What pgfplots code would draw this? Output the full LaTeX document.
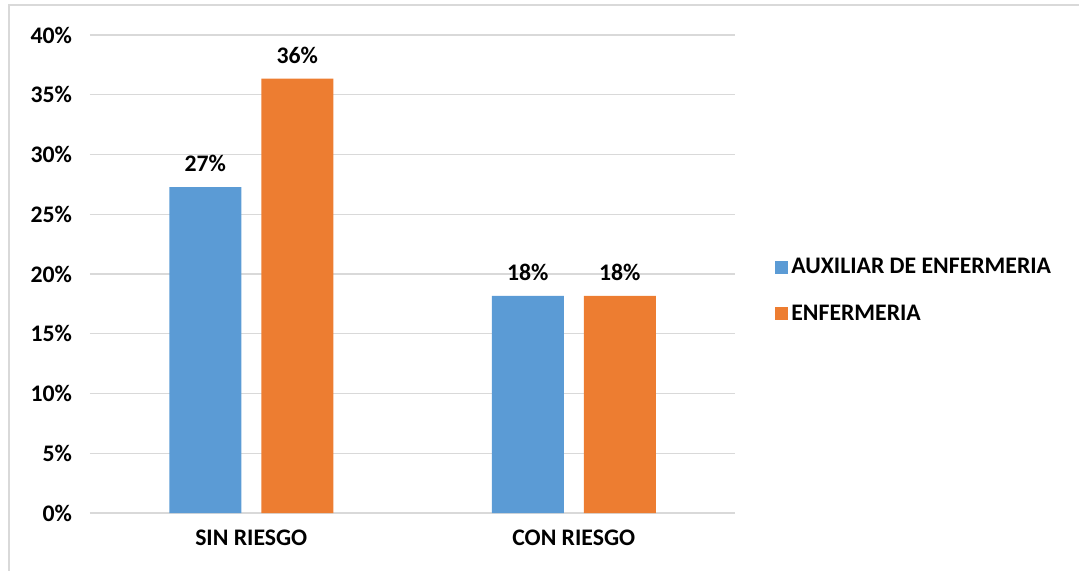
\documentclass[border=0pt]{standalone}
\usepackage{fontspec}
\setmainfont{Carlito}
\usepackage{pgfplots}
\pgfplotsset{compat=1.18}

\definecolor{aux}{HTML}{5B9BD5}
\definecolor{enf}{HTML}{ED7D31}
\definecolor{gridc}{HTML}{D9D9D9}

\begin{document}
\begin{tikzpicture}[x=0.75pt,y=-0.75pt,font=\bfseries\fontsize{17.8}{21}\selectfont]
\useasboundingbox (0,0) rectangle (1079,571);
\clip (0,0) rectangle (1079,571);
\draw[gridc, line width=1.5pt] (9,5) rectangle (1085,590);
\coordinate (o) at (90,513);
\begin{axis}[
    at={(o)}, anchor=south west,
    scale only axis,
    width=483.75pt, height=358.5pt,
    xmin=-0.5, xmax=1.5,
    ymin=0, ymax=40,
    ybar=15pt, bar width=54pt,
    xtick={0,1}, xticklabels={SIN RIESGO, CON RIESGO},
    ytick={0,5,...,40},
    yticklabel={\pgfmathprintnumber[fixed,precision=0]{\tick}\%},
    /pgf/number format/assume math mode=true,
    major tick length=0pt,
    axis line style={draw=none},
    xmajorgrids=false, ymajorgrids=true,
    grid style={draw=gridc, line width=1pt},
    yticklabel style={xshift=-10pt},
    xticklabel style={yshift=-9pt},
    nodes near coords={\pgfmathprintnumber[fixed,precision=0]{\pgfplotspointmeta}\%},
    nodes near coords style={anchor=south, inner sep=0pt, yshift=11pt},
    legend style={at={(1.062,0.4655)}, anchor=west, draw=none, inner sep=0pt,
        row sep=17pt, nodes={inner sep=2.5pt}},
    legend cell align=left,
    legend image code/.code={\fill[#1] (0pt,-4.8pt) rectangle (9.6pt,4.8pt);},
    clip=false,
]
\addplot[draw=none, fill=aux] coordinates {(0,27.27) (1,18.18)};
\addlegendentry{AUXILIAR DE ENFERMERIA}
\addplot[draw=none, fill=enf] coordinates {(0,36.36) (1,18.18)};
\addlegendentry{ENFERMERIA}
\end{axis}
\end{tikzpicture}
\end{document}
